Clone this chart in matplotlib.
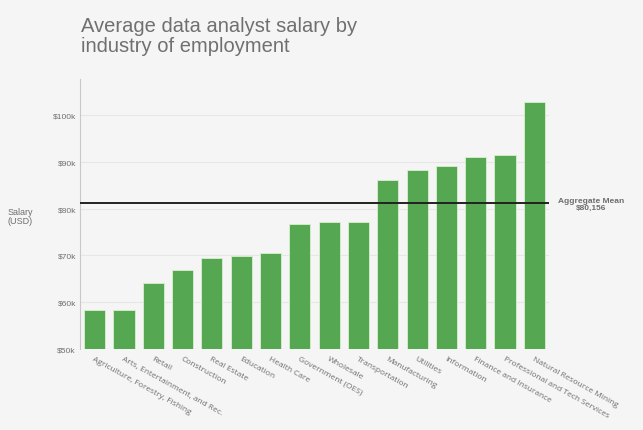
import matplotlib.pyplot as plt
import numpy as np

industries = ['Agriculture, Forestry, Fishing', 'Arts, Entertainment, and Rec.', 'Retail',
              'Construction', 'Real Estate', 'Education', 'Health Care', 'Government (OES)',
              'Wholesale', 'Transportation', 'Manufacturing', 'Utilities', 'Information',
              'Finance and Insurance', 'Professional and Tech Services', 'Natural Resource Mining']
salaries = [58300, 58300, 64100, 66900, 69400, 69800, 70600, 76800,
            77100, 77200, 86200, 88300, 89100, 91100, 91500, 102800]
ytick_values = [50000, 60000, 70000, 80000, 90000, 100000]
ytick_labels = ['$50k', '$60k', '$70k', '$80k', '$90k', '$100k']
mean_line = 81300
mean_label = 'Aggregate Mean\n$80,156'

bg = '#f5f5f5'
text_gray = '#6e6e6e'

fig = plt.figure(figsize=(6.43, 4.31), dpi=100, facecolor=bg)
ax = fig.add_axes([80 / 643, 1 - 350 / 431, 469 / 643, 270 / 431])
ax.set_facecolor(bg)

x = np.arange(len(industries))
ax.bar(x, salaries, width=0.72, color='#55a851', edgecolor='#d9efcf', linewidth=0.6, zorder=2)
ax.set_xlim(-0.5, len(industries) - 0.5)
ax.set_ylim(50000, 107700)

ax.axhline(mean_line, color='#222222', linewidth=1.4, zorder=3)
fig.text(591 / 643, 1 - 205 / 431, mean_label, ha='center', va='center', fontsize=6,
         color=text_gray, fontweight='bold', family='Liberation Sans', linespacing=1.1)

ax.set_yticks(ytick_values)
ax.set_yticklabels(ytick_labels, fontsize=6, color=text_gray, family='Liberation Sans')
ax.grid(axis='y', color='#e6e6e6', linewidth=0.8, zorder=0)
ax.set_axisbelow(True)

ax.set_xticks(x)
ax.set_xticklabels(industries, rotation=-29, ha='left', va='top', rotation_mode='anchor',
                   fontsize=6, color=text_gray, family='Open Sans')
ax.tick_params(axis='both', length=0, pad=3)
ax.tick_params(axis='x', pad=4)

for side in ['top', 'right', 'bottom']:
    ax.spines[side].set_visible(False)
ax.spines['left'].set_color('#c8c8c8')
ax.spines['left'].set_linewidth(0.8)

fig.text(20 / 643, 1 - 217 / 431, 'Salary\n(USD)', ha='center', va='center', fontsize=6.5,
         color=text_gray, family='Liberation Sans', linespacing=1.1)
fig.text(81 / 643, 1 - 17 / 431, 'Average data analyst salary by\nindustry of employment',
         ha='left', va='top', fontsize=14.5, color='#707070', family='Liberation Sans',
         linespacing=1.1)

fig.savefig('out.png', dpi=100, facecolor=bg)
